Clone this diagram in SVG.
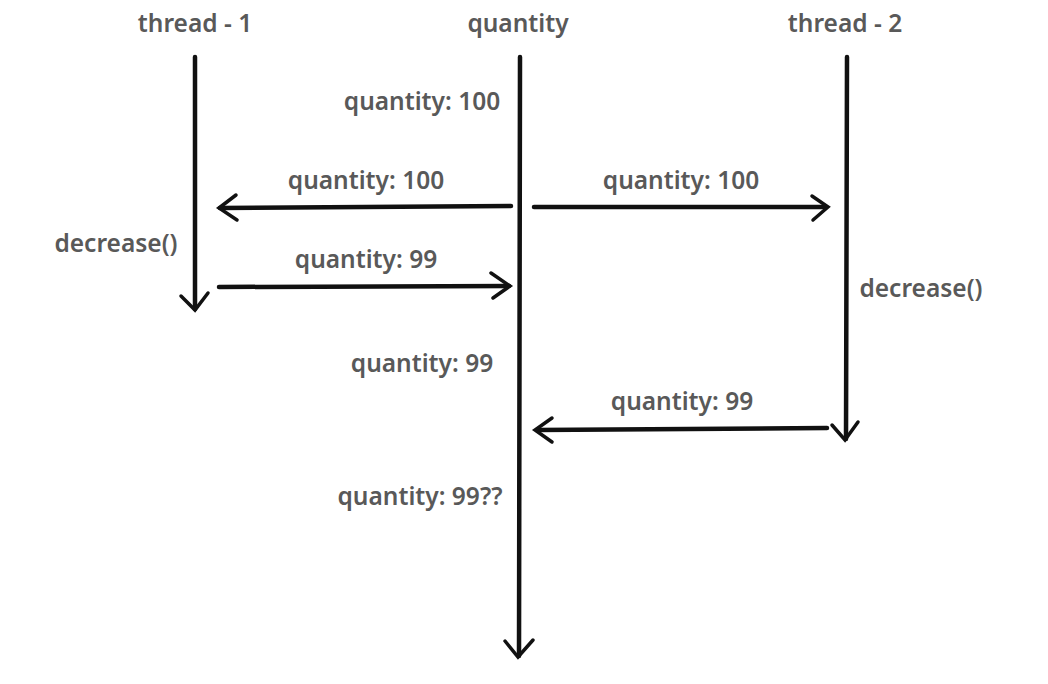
<svg xmlns="http://www.w3.org/2000/svg" width="1048" height="684" viewBox="0 0 1048 684">
<style>
  .t { font-family: "Noto Sans", "Open Sans", sans-serif; font-size: 24.5px; font-weight: 600; fill: #595959; text-anchor: middle; }
  .ln { stroke: #111; stroke-width: 4.5; fill: none; stroke-linecap: round; stroke-linejoin: round; }
  .hd { stroke: #111; stroke-width: 3.5; fill: none; stroke-linecap: round; stroke-linejoin: miter; }
</style>
<rect width="1048" height="684" fill="#ffffff"/>
<g id="thread1">
  <text class="t" x="195" y="32">thread - 1</text>
</g>
<g id="quantity">
  <text class="t" x="518" y="32">quantity</text>
</g>
<g id="thread2">
  <text class="t" x="845" y="32">thread - 2</text>
</g>
<g id="labels">
  <text class="t" x="422" y="110">quantity: 100</text>
  <text class="t" x="366" y="189">quantity: 100</text>
  <text class="t" x="681" y="189">quantity: 100</text>
  <text class="t" x="116" y="252">decrease()</text>
  <text class="t" x="366" y="268">quantity: 99</text>
  <text class="t" x="921" y="297">decrease()</text>
  <text class="t" x="422" y="372">quantity: 99</text>
  <text class="t" x="682" y="410">quantity: 99</text>
  <text class="t" x="420" y="505">quantity: 99??</text>
</g>
<g id="connectors">
  <path class="ln" d="M195,57 L195,309"/>
  <path class="hd" d="M181,296 L195,310 L208,293"/>
  <path class="ln" d="M520,57 L519,656"/>
  <path class="hd" d="M505,641 L518,657 L533,640"/>
  <path class="ln" d="M847,57 L846,439"/>
  <path class="hd" d="M832,425 L845,440 L858,422"/>
  <path class="ln" d="M511,206 L220,208"/>
  <path class="hd" d="M236,195 L219,208 L237,220"/>
  <path class="ln" d="M534,207 L826,207"/>
  <path class="hd" d="M812,196 L828,207 L813,220"/>
  <path class="ln" d="M219,287 L509,286"/>
  <path class="hd" d="M491,273 L510,286 L493,298"/>
  <path class="ln" d="M827,428 L537,430"/>
  <path class="hd" d="M552,418 L535,430 L552,442"/>
</g>
</svg>
